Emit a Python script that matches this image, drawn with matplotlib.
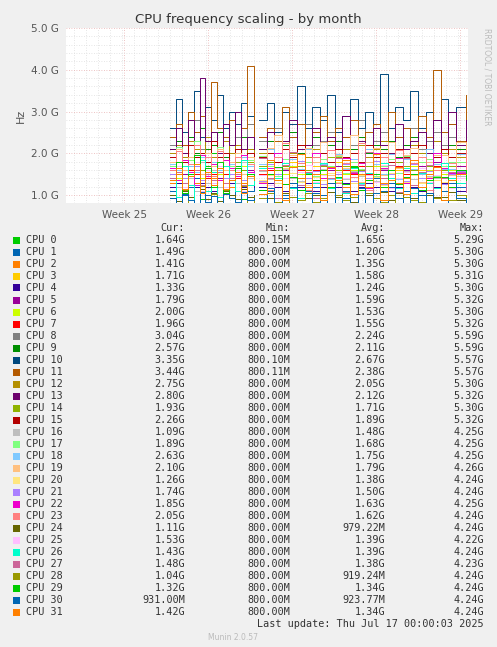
import matplotlib
matplotlib.use("Agg")
import matplotlib.pyplot as plt
import numpy as np

cpus = [f"CPU {i}" for i in range(32)]
colors = ["#00CC00","#0066B3","#FF8000","#FFCC00","#330099","#990099","#CCFF00","#FF0000",
          "#808080","#008F00","#00487D","#B35A00","#B38F00","#6B006B","#8FB300","#B30000",
          "#BEBEBE","#80FF80","#80C9FF","#FFC080","#FFE680","#AA80FF","#EE00CC","#FF8080",
          "#666600","#FFBFFF","#00FFCC","#CC6699","#999900","#00CC00","#0066B3","#FF8000"]
cur = ["1.64G","1.49G","1.41G","1.71G","1.33G","1.79G","2.00G","1.96G","3.04G","2.57G","3.35G","3.44G",
       "2.75G","2.80G","1.93G","2.26G","1.09G","1.89G","2.63G","2.10G","1.26G","1.74G","1.85G","2.05G",
       "1.11G","1.53G","1.43G","1.48G","1.04G","1.32G","931.00M","1.42G"]
mins = ["800.15M","800.00M","800.00M","800.00M","800.00M","800.00M","800.00M","800.00M","800.00M","800.00M",
        "800.10M","800.11M"] + ["800.00M"]*20
avgs = ["1.65G","1.20G","1.35G","1.58G","1.24G","1.59G","1.53G","1.55G","2.24G","2.11G","2.67G","2.38G",
        "2.05G","2.12G","1.71G","1.89G","1.48G","1.68G","1.75G","1.79G","1.38G","1.50G","1.63G","1.62G",
        "979.22M","1.39G","1.39G","1.38G","919.24M","1.34G","923.77M","1.34G"]
maxs = ["5.29G","5.30G","5.30G","5.31G","5.30G","5.32G","5.30G","5.32G","5.59G","5.59G","5.57G","5.57G",
        "5.30G","5.32G","5.30G","5.32G","4.25G","4.25G","4.25G","4.26G","4.24G","4.24G","4.25G","4.24G",
        "4.24G","4.22G","4.24G","4.23G","4.24G","4.24G","4.24G","4.24G"]

# sampled frequency values (GHz); two segments split by a data gap
t1 = [25.55,25.62,25.69,25.76,25.83,25.90,25.97,26.04,26.11,26.18,26.25,26.32,26.39,26.46,26.55]
t2 = [26.61,26.70,26.79,26.88,26.97,27.06,27.15,27.24,27.33,27.42,27.51,27.60,27.69,27.78,27.87,
      27.96,28.05,28.14,28.23,28.32,28.41,28.50,28.59,28.68,28.77,28.86,28.95,29.07]
seg1 = {
 0:[1.7,1.5,1.8,1.6,1.9,1.4,1.7,2.0,1.6,1.5,1.8,1.7,1.6,1.9,1.6],
 1:[1.1,1.3,1.0,1.2,1.4,1.1,1.0,1.3,1.2,1.1,1.0,1.4,1.2,1.1,1.2],
 2:[1.3,1.5,1.2,1.4,1.3,1.6,1.2,1.4,1.5,1.3,1.2,1.4,1.3,1.5,1.3],
 3:[1.6,1.4,1.8,1.5,1.7,1.6,1.4,1.9,1.5,1.6,1.7,1.5,1.6,1.8,1.6],
 4:[1.2,1.3,1.1,1.4,1.2,1.3,1.2,1.1,1.4,1.2,1.3,1.1,1.2,1.4,1.2],
 5:[1.6,1.8,1.5,1.7,2.0,1.5,1.6,1.8,1.4,1.7,1.6,1.5,1.9,1.6,1.6],
 6:[1.5,1.4,1.7,1.5,1.6,1.4,1.5,1.8,1.5,1.4,1.6,1.5,1.7,1.5,1.5],
 7:[1.5,1.7,1.4,1.6,1.5,1.8,1.4,1.5,1.7,1.5,1.6,1.4,1.6,1.5,1.5],
 8:[2.2,2.6,2.0,2.4,2.8,2.1,2.3,2.5,2.0,2.6,2.2,2.4,2.1,2.7,2.2],
 9:[2.1,2.3,1.9,2.4,2.0,2.6,2.1,2.2,2.5,1.9,2.2,2.0,2.4,2.1,2.1],
 10:[2.6,3.3,2.5,3.0,3.5,2.4,3.1,2.8,3.4,2.6,3.0,2.7,3.2,2.9,2.7],
 11:[2.4,2.7,2.2,3.0,2.5,2.9,2.3,3.7,2.6,2.4,2.8,2.2,2.6,4.1,2.4],
 12:[2.0,2.2,1.9,2.3,2.1,2.0,2.4,1.9,2.1,2.3,2.0,2.2,1.9,2.1,2.0],
 13:[2.1,2.6,2.0,2.8,2.2,3.8,2.3,2.5,2.0,2.7,2.2,3.0,2.1,2.4,2.1],
 14:[1.7,1.8,1.6,1.9,1.7,1.6,1.8,1.7,1.9,1.6,1.7,1.8,1.6,1.8,1.7],
 15:[1.9,2.1,1.8,2.2,1.9,2.0,1.8,2.3,1.9,2.0,1.8,2.1,1.9,2.0,1.9],
}
seg2 = {
 0:[1.6,1.8,1.5,1.7,1.9,1.6,1.5,1.8,1.7,1.6,1.9,1.5,1.7,1.6,1.8,1.6,1.7,1.5,1.9,1.6,1.7,1.8,1.6,1.7,1.5,1.8,1.6,1.6],
 1:[1.2,1.1,1.3,1.0,1.2,1.4,1.1,1.2,1.0,1.3,1.2,1.1,1.3,1.2,1.0,1.4,1.1,1.2,1.3,1.1,1.2,1.0,1.3,1.2,1.1,1.4,1.2,1.5],
 2:[1.3,1.4,1.2,1.5,1.3,1.4,1.2,1.3,1.6,1.3,1.4,1.2,1.5,1.3,1.4,1.2,1.3,1.5,1.3,1.4,1.2,1.3,1.5,1.4,1.3,1.2,1.4,1.4],
 3:[1.5,1.7,1.6,1.4,1.8,1.6,1.5,1.7,1.4,1.6,1.8,1.5,1.6,1.7,1.5,1.6,1.4,1.8,1.6,1.5,1.7,1.6,1.4,1.7,1.6,1.5,1.7,1.7],
 4:[1.2,1.3,1.2,1.1,1.4,1.2,1.3,1.1,1.2,1.4,1.2,1.3,1.1,1.2,1.3,1.2,1.4,1.1,1.2,1.3,1.2,1.1,1.4,1.2,1.3,1.2,1.1,1.3],
 5:[1.6,1.5,1.8,1.6,1.4,1.7,1.6,1.9,1.5,1.6,1.7,1.5,1.8,1.6,1.5,1.7,1.6,1.4,1.8,1.6,1.5,1.7,1.6,1.8,1.5,1.6,1.7,1.8],
 6:[1.5,1.6,1.4,1.5,1.7,1.5,1.4,1.6,1.5,1.7,1.4,1.5,1.6,1.5,1.4,1.7,1.5,1.6,1.4,1.5,1.7,1.5,1.6,1.4,1.5,1.6,1.5,2.0],
 7:[1.5,1.6,1.5,1.7,1.4,1.6,1.5,1.6,1.7,1.4,1.5,1.6,1.5,1.7,1.5,1.6,1.4,1.5,1.7,1.5,1.6,1.5,1.4,1.7,1.6,1.5,1.6,1.9],
 8:[2.3,2.1,2.6,2.2,2.4,2.0,2.7,2.2,2.3,2.5,2.1,2.4,2.2,2.8,2.1,2.3,2.5,2.0,2.4,2.2,2.6,2.1,2.3,2.5,2.2,2.4,2.1,3.0],
 9:[2.1,2.3,2.0,2.2,2.5,2.0,2.1,2.4,2.0,2.2,2.3,1.9,2.1,2.4,2.0,2.2,2.1,2.3,1.9,2.2,2.4,2.0,2.1,2.3,2.0,2.2,2.1,2.6],
 10:[2.8,3.2,2.5,3.0,2.7,3.6,2.6,3.1,2.8,3.4,2.5,2.9,3.3,2.6,3.0,2.7,3.9,2.6,3.1,2.8,3.5,2.6,3.0,2.8,3.3,2.7,3.1,3.3],
 11:[2.4,2.6,2.3,3.1,2.4,2.7,2.2,2.5,2.9,2.3,2.6,2.4,2.8,2.2,2.5,2.7,2.3,3.0,2.4,2.6,2.2,2.9,2.4,4.0,2.5,2.7,2.3,3.4],
 12:[2.0,2.1,1.9,2.3,2.0,2.2,1.9,2.1,2.0,2.4,1.9,2.1,2.0,2.2,1.9,2.1,2.3,2.0,2.1,1.9,2.2,2.0,2.1,2.3,2.0,2.1,1.9,2.7],
 13:[2.1,2.5,2.0,2.3,2.8,2.1,2.2,2.6,2.0,2.4,2.1,2.9,2.0,2.3,2.1,2.6,2.2,2.0,2.7,2.1,2.3,2.5,2.0,2.8,2.1,3.0,2.2,2.8],
 14:[1.7,1.8,1.6,1.7,1.9,1.7,1.6,1.8,1.7,1.9,1.6,1.7,1.8,1.6,1.7,1.9,1.7,1.6,1.8,1.7,1.6,1.8,1.7,1.9,1.6,1.7,1.8,1.9],
 15:[1.9,2.0,1.8,2.1,1.9,2.2,1.8,1.9,2.0,1.8,2.1,1.9,2.0,1.8,2.2,1.9,2.0,1.8,2.1,1.9,2.0,2.2,1.8,1.9,2.1,1.9,2.0,2.3],
}
low1 = {16:1.5,17:1.7,18:1.75,19:1.8,20:1.4,21:1.5,22:1.65,23:1.6,24:1.0,25:1.4,26:1.4,27:1.4,28:0.92,29:1.35,30:0.93,31:1.35}
wig1 = [0.0,0.3,-0.2,0.1,0.4,-0.3,0.2,-0.1,0.3,-0.2,0.0,0.2,-0.3,0.1,0.0]
wig2 = [0.1,-0.2,0.3,0.0,-0.3,0.2,0.4,-0.1,0.1,-0.3,0.2,0.0,0.3,-0.2,0.1,-0.1,0.4,-0.3,0.0,0.2,-0.2,0.3,-0.1,0.1,0.2,-0.3,0.0,0.1]
for k, base in low1.items():
    s = 1 if k % 2 else -1
    seg1[k] = [max(0.8, base + s*w*((k % 3)+1)/2) for w in wig1]
    seg2[k] = [max(0.8, base + s*w*((k % 4)+1)/2.5) for w in (wig2[k % 5:] + wig2[:k % 5])]

W, H = 497, 647
fig = plt.figure(figsize=(W/100, H/100), dpi=100, facecolor="#F0F0F0")
L, R, T, B = 66, 468, 28, 203
ax = fig.add_axes([L/W, 1-B/H, (R-L)/W, (B-T)/H], facecolor="white")
for i in range(32):
    ax.step(t1, seg1[i], where="post", color=colors[i], lw=0.7)
    ax.step(t2, seg2[i], where="post", color=colors[i], lw=0.7)
ax.set_xlim(25 - 58/84, 29 + 8/84)
ax.set_ylim(0.81, 5.0)
ax.set_yticks([1, 2, 3, 4, 5])
ax.set_yticklabels(["1.0 G", "2.0 G", "3.0 G", "4.0 G", "5.0 G"], fontsize=7.5, color="#555555")
ax.set_yticks(np.arange(1.0, 5.0, 0.2), minor=True)
ax.set_xticks([25, 26, 27, 28, 29])
ax.set_xticklabels(["Week 25", "Week 26", "Week 27", "Week 28", "Week 29"], fontsize=7.5, color="#555555")
ax.set_xticks(np.arange(24.4, 29.1, 1/7), minor=True)
ax.grid(True, which="both", color="#DDDDDD", ls=(0, (1, 2)), lw=0.6)
ax.grid(True, which="major", color="#E8B0B0", ls=(0, (1, 2)), lw=0.6)
ax.tick_params(length=0, which="both", pad=5)
for s in ax.spines.values():
    s.set_visible(False)
ax.set_ylabel("Hz", fontsize=8, color="#555555")
fig.text(0.5, 1-19/H, "CPU frequency scaling - by month", ha="center", va="center", fontsize=9.5, color="#333333")
fig.text(487/W, 1-28/H, "RRDTOOL / TOBI OETIKER", rotation=270, ha="center", va="top", fontsize=5.5, color="#BBBBBB")

fs = 7.3
mono = "DejaVu Sans Mono"
y0 = 228
for x, h in [(185, "Cur:"), (290, "Min:"), (385, "Avg:"), (484, "Max:")]:
    fig.text(x/W, 1-y0/H, h, ha="right", va="center", fontsize=fs, family=mono, color="#333333")
for i in range(32):
    y = 240 + i*12.0
    fig.patches.append(plt.Rectangle((13/W, 1-(y+3.5)/H), 7/W, 7/H, transform=fig.transFigure,
                                     facecolor=colors[i], edgecolor="none"))
    fig.text(26/W, 1-y/H, cpus[i], ha="left", va="center", fontsize=fs, family=mono, color="#333333")
    for x, v in [(185, cur[i]), (290, mins[i]), (385, avgs[i]), (484, maxs[i])]:
        fig.text(x/W, 1-y/H, v, ha="right", va="center", fontsize=fs, family=mono, color="#333333")
fig.text(484/W, 1-624/H, "Last update: Thu Jul 17 00:00:03 2025", ha="right", va="center", fontsize=fs, family=mono, color="#333333")
fig.text(233/W, 1-637/H, "Munin 2.0.57", ha="center", va="center", fontsize=5.5, color="#BBBBBB")
fig.savefig("out.png", dpi=100, facecolor=fig.get_facecolor())
